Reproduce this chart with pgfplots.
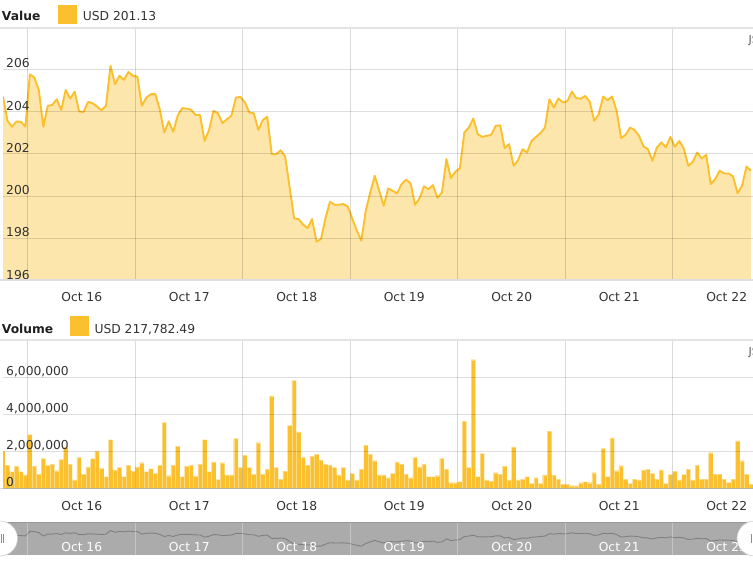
\documentclass[border=0pt]{standalone}
\usepackage{pgfplots}
\pgfplotsset{compat=1.18}
\usepackage{pgfplotstable}
\usepackage{fontspec}
\setmainfont{DejaVu Sans}
\definecolor{gold}{HTML}{FBC02D}
\definecolor{txt}{HTML}{333333}
\definecolor{navgray}{HTML}{ABABAB}
\newcommand\myfont{\fontsize{12.3}{14.5}\selectfont}

\pgfplotstableread{
k v
0 204.71
1 203.56
2 203.28
3 203.53
4 203.51
5 203.28
6 205.76
7 205.61
8 205.02
9 203.28
10 204.27
11 204.31
12 204.58
13 204.08
14 205.02
15 204.61
16 204.94
17 204.00
18 203.98
19 204.46
20 204.39
21 204.24
22 204.06
23 204.27
24 206.16
25 205.29
26 205.69
27 205.50
28 205.87
29 205.69
30 205.65
31 204.27
32 204.66
33 204.82
34 204.83
35 204.11
36 203.00
37 203.54
38 203.04
39 203.80
40 204.16
41 204.14
42 204.08
43 203.84
44 203.83
45 202.61
46 203.13
47 204.03
48 203.92
49 203.45
50 203.64
51 203.80
52 204.66
53 204.69
54 204.43
55 203.95
56 203.92
57 203.13
58 203.59
59 203.75
60 201.98
61 201.98
62 202.17
63 201.87
64 200.41
65 198.94
66 198.91
67 198.65
68 198.49
69 198.91
70 197.84
71 197.97
72 198.96
73 199.73
74 199.59
75 199.59
76 199.62
77 199.50
78 198.91
79 198.36
80 197.89
81 199.31
82 200.17
83 200.96
84 200.25
85 199.54
86 200.36
87 200.25
88 200.13
89 200.57
90 200.77
91 200.61
92 199.59
93 199.89
94 200.46
95 200.33
96 200.52
97 199.91
98 200.17
99 201.75
100 200.85
101 201.15
102 201.31
103 203.01
104 203.24
105 203.67
106 202.93
107 202.80
108 202.85
109 202.90
110 203.32
111 203.35
112 202.27
113 202.46
114 201.43
115 201.70
116 202.22
117 202.06
118 202.61
119 202.80
120 202.98
121 203.24
122 204.58
123 204.19
124 204.62
125 204.43
126 204.49
127 204.94
128 204.63
129 204.61
130 204.74
131 204.46
132 203.56
133 203.87
134 204.71
135 204.54
136 204.71
137 204.03
138 202.74
139 202.90
140 203.24
141 203.13
142 202.85
143 202.35
144 202.22
145 201.67
146 202.30
147 202.54
148 202.30
149 202.80
150 202.33
151 202.61
152 202.25
153 201.43
154 201.62
155 202.06
156 201.78
157 201.95
158 200.57
159 200.80
160 201.20
161 201.07
162 201.07
163 200.93
164 200.13
165 200.49
166 201.40
167 201.20
}\valuedata

\pgfplotstableread{
k vol
0 2.02
1 1.25
2 0.90
3 1.20
4 0.90
5 0.72
6 2.90
7 1.20
8 0.77
9 1.61
10 1.25
11 1.31
12 0.95
13 1.56
14 2.24
15 1.31
16 0.45
17 1.67
18 0.77
19 1.16
20 1.60
21 2.00
22 1.08
23 0.63
24 2.63
25 0.99
26 1.13
27 0.63
28 1.25
29 0.93
30 1.16
31 1.38
32 0.90
33 1.06
34 0.81
35 1.25
36 3.55
37 0.68
38 1.25
39 2.28
40 0.63
41 1.20
42 1.25
43 0.66
44 1.31
45 2.63
46 0.90
47 1.43
48 0.48
49 1.38
50 0.72
51 0.72
52 2.69
53 1.13
54 1.79
55 1.13
56 0.77
57 2.46
58 0.77
59 1.04
60 4.98
61 1.13
62 0.50
63 0.93
64 3.40
65 5.82
66 3.05
67 1.67
68 1.25
69 1.74
70 1.85
71 1.52
72 1.31
73 1.25
74 1.13
75 0.72
76 1.13
77 0.45
78 0.81
79 0.45
80 1.04
81 2.33
82 1.85
83 1.49
84 0.72
85 0.72
86 0.57
87 0.81
88 1.43
89 1.31
90 0.77
91 0.57
92 1.67
93 1.16
94 1.31
95 0.63
96 0.63
97 0.68
98 1.61
99 1.04
100 0.30
101 0.30
102 0.36
103 3.62
104 1.13
105 6.94
106 0.63
107 1.88
108 0.45
109 0.39
110 0.84
111 0.77
112 1.20
113 0.45
114 2.24
115 0.45
116 0.50
117 0.63
118 0.27
119 0.57
120 0.27
121 0.72
122 3.08
123 0.72
124 0.50
125 0.23
126 0.23
127 0.14
128 0.14
129 0.30
130 0.36
131 0.30
132 0.84
133 0.22
134 2.15
135 0.63
136 2.72
137 0.95
138 1.22
139 0.50
140 0.27
141 0.50
142 0.45
143 0.99
144 1.04
145 0.81
146 0.50
147 0.99
148 0.27
149 0.75
150 0.93
151 0.45
152 0.75
153 1.04
154 0.45
155 1.25
156 0.50
157 0.50
158 1.92
159 0.77
160 0.77
161 0.50
162 0.32
163 0.50
164 2.56
165 1.49
166 0.77
167 0.22
}\voldata

\pgfplotsset{
  chartbase/.style={
    scale only axis, width=750pt, xmin=0, xmax=167.45,
    axis line style={draw=none},
    major tick length=0pt, minor tick length=0pt,
    tick style={draw=none},
    xtick={17.58,41.58,65.58,89.58,113.58,137.58,161.58},
    xticklabels={Oct 16,Oct 17,Oct 18,Oct 19,Oct 20,Oct 21,Oct 22},
    minor xtick={5.58,29.58,53.58,77.58,101.58,125.58,149.58},
    xminorgrids, ymajorgrids, axis on top,
    minor grid style={black, opacity=0.15, line width=1pt},
    major grid style={black, opacity=0.13, line width=1.1pt},
    tick label style={font=\myfont, text=txt, inner sep=0pt},
    yticklabel style={anchor=base west, xshift=3pt, yshift=1.5pt},
  }
}

\begin{document}
\begin{tikzpicture}[x=1pt,y=1pt]
\path[use as bounding box] (0pt,0pt) rectangle (753pt,-562pt);

% ---------- Value panel ----------
\begin{axis}[chartbase,
  at={(3pt,-27pt)}, anchor=north west, height=253.6pt,
  ymin=196, ymax=208,
  ytick={196,198,200,202,204,206},
  yticklabels={196,198,200,202,204,206},
  xticklabel style={anchor=base, yshift=-20.4pt},
]
\addplot[draw=none, fill=gold, fill opacity=0.4] table[x=k,y=v]{\valuedata} \closedcycle;
\addplot[gold, line width=1.9pt, line join=round] table[x=k,y=v]{\valuedata};
\end{axis}

% ---------- Volume panel ----------
\begin{axis}[chartbase,
  at={(3pt,-340pt)}, anchor=north west, height=148.3pt,
  ymin=0, ymax=8,
  ytick={0,2,4,6},
  yticklabels={0,{2,000,000},{4,000,000},{6,000,000}},
  xticklabel style={anchor=base, yshift=-22.4pt},
]
\addplot[ybar, bar width=1, fill=gold, draw=white, draw opacity=0.4, line width=0.3pt] table[x=k,y=vol]{\voldata};
\end{axis}

% ---------- Navigator ----------
\begin{axis}[
  scale only axis, width=753pt, height=33pt,
  at={(0pt,-522pt)}, anchor=north west,
  xmin=-0.67, xmax=167.45, ymin=193.2, ymax=210.7,
  axis line style={draw=none},
  axis background/.style={fill=navgray},
  major tick length=0pt, minor tick length=0pt, tick style={draw=none},
  ytick=\empty,
  xtick={17.58,41.58,65.58,89.58,113.58,137.58,161.58},
  xticklabels={Oct 16,Oct 17,Oct 18,Oct 19,Oct 20,Oct 21,Oct 22},
  minor xtick={5.58,29.58,53.58,77.58,101.58,125.58,149.58},
  xminorgrids, axis on top,
  minor grid style={white, opacity=0.3, line width=1pt},
  tick label style={font=\myfont, text=white, inner sep=0pt},
  xticklabel style={anchor=base, yshift=4pt},
]
\addplot[black!50, line width=0.9pt] table[x=k,y=v]{\valuedata};
\end{axis}

% borders
\draw[black!11, line width=2.4pt] (0pt,-28pt) -- (753pt,-28pt);
\draw[black!13, line width=1.5pt] (0pt,-280.2pt) -- (753pt,-280.2pt);
\draw[black!11, line width=2.0pt] (0pt,-340pt) -- (753pt,-340pt);
\draw[black, opacity=0.15, line width=1.6pt] (0pt,-488.3pt) -- (753pt,-488.3pt);
\draw[black!40, line width=0.8pt] (0pt,-522pt) -- (753pt,-522pt);

% handles
\filldraw[fill=white, draw=black!20, line width=0.6pt] (0pt,-538.5pt) circle (17.5pt);
\draw[black!45, line width=0.6pt] (1.2pt,-534pt) -- (1.2pt,-543pt) (3.6pt,-534pt) -- (3.6pt,-543pt);
\filldraw[fill=white, draw=black!20, line width=0.6pt] (754.5pt,-538.5pt) circle (17.5pt);
\draw[black!45, line width=0.6pt] (751.5pt,-534pt) -- (751.5pt,-543pt);

% titles and legends
\node[anchor=base west, inner sep=0pt, font=\bfseries\myfont, text=black!88] at (1.7pt,-20.7pt) {Value};
\fill[gold] (58.3pt,-5pt) rectangle (76.7pt,-24pt);
\node[anchor=base west, inner sep=0pt, font=\myfont, text=txt] at (82.7pt,-20.7pt) {USD 201.13};

\node[anchor=base west, inner sep=0pt, font=\bfseries\myfont, text=black!88] at (1.7pt,-333.3pt) {Volume};
\fill[gold] (70pt,-316pt) rectangle (89.3pt,-335.7pt);
\node[anchor=base west, inner sep=0pt, font=\myfont, text=txt] at (94.3pt,-333.3pt) {USD 217,782.49};

% watermark (cut off at the right edge, as in the reference)
\node[anchor=base west, inner sep=0pt, font=\fontsize{11}{13}\selectfont, text=black!65] at (748.5pt,-43.5pt) {JS chart by amCharts};
\node[anchor=base west, inner sep=0pt, font=\fontsize{11}{13}\selectfont, text=black!65] at (748.5pt,-355pt) {JS chart by amCharts};
\end{tikzpicture}
\end{document}
